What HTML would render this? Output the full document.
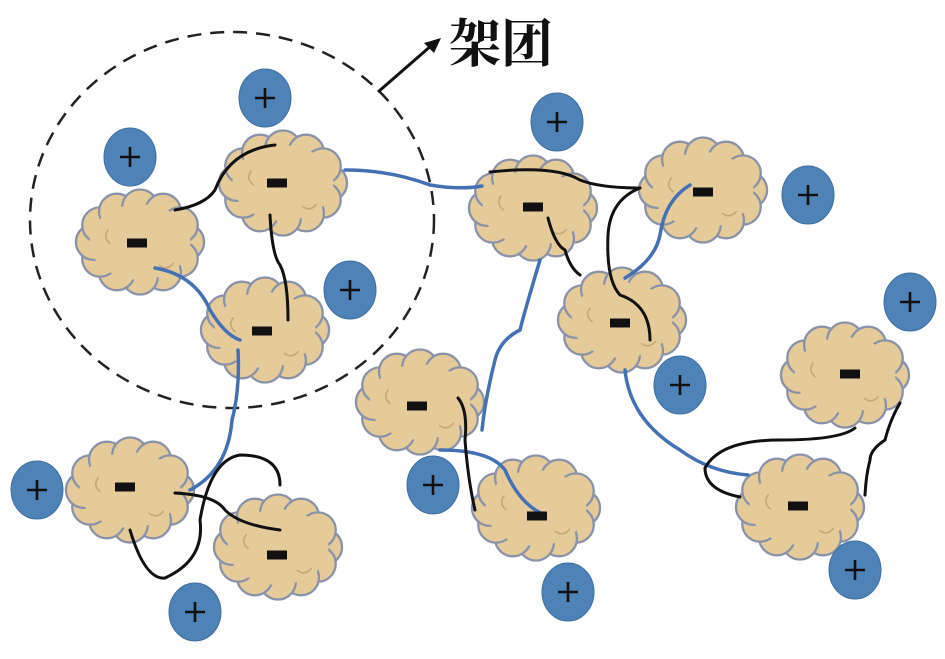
<!DOCTYPE html>
<html><head><meta charset="utf-8"><style>
html,body{margin:0;padding:0;background:#fff;width:945px;height:659px;overflow:hidden}
</style></head><body>
<svg width="945" height="659" viewBox="0 0 945 659" xmlns="http://www.w3.org/2000/svg">
<defs>
<g id="cl" transform="scale(1.05)">
<g fill="#e6cb9a" stroke="#8a92a8" stroke-width="2.2">
<circle cx="44" cy="0" r="17"/><circle cx="38" cy="16" r="17"/><circle cx="22" cy="29" r="17"/>
<circle cx="0" cy="33" r="17"/><circle cx="-22" cy="29" r="17"/><circle cx="-38" cy="16" r="17"/>
<circle cx="-44" cy="0" r="17"/><circle cx="-38" cy="-16" r="17"/><circle cx="-22" cy="-29" r="17"/>
<circle cx="0" cy="-33" r="17"/><circle cx="22" cy="-29" r="17"/><circle cx="38" cy="-16" r="17"/>
</g>
<ellipse cx="0" cy="0" rx="48" ry="36" fill="#e6cb9a"/>
<path d="M18 22 q8 6 14 -2 M-30 -12 q-6 8 2 14" stroke="#c4a878" stroke-width="1.5" fill="none"/>
</g>
<g id="pl">
<ellipse cx="0" cy="0" rx="26" ry="29" fill="#4f83b8" stroke="#3f6f9f" stroke-width="1"/>
<path d="M-10 0 H10 M0 -10 V10" stroke="#111" stroke-width="2.6"/>
</g>
<rect id="mn" x="-10" y="-4.5" width="20" height="9" fill="#111"/>
</defs>

<ellipse cx="232" cy="220" rx="202" ry="188" fill="none" stroke="#222" stroke-width="2.5" stroke-dasharray="14 9"/>
<path d="M378 92 L432 45" stroke="#111" stroke-width="3"/>
<path d="M441 38 L424 43 L434 53 Z" fill="#111"/>
<text x="449" y="62" font-family="Liberation Serif, 'Noto Serif CJK SC', serif" font-size="52" font-weight="bold" fill="#111">架团</text>

<use href="#cl" x="140" y="242"/>
<use href="#cl" x="283" y="183"/>
<use href="#cl" x="265" y="330"/>
<use href="#cl" x="533" y="208"/>
<use href="#cl" x="703" y="190"/>
<use href="#cl" x="622" y="320"/>
<use href="#cl" x="420" y="402"/>
<use href="#cl" x="536" y="508"/>
<use href="#cl" x="845" y="375"/>
<use href="#cl" x="800" y="507"/>
<use href="#cl" x="130" y="490"/>
<use href="#cl" x="278" y="547"/>

<g fill="none" stroke-width="3.5" stroke-linecap="round">
<g stroke="#4470b4">
<path d="M155 268 Q195 275 210 310 Q225 335 240 340"/>
<path d="M238 350 Q240 390 232 420 Q228 470 190 490"/>
<path d="M345 170 Q390 170 430 185 Q460 190 482 186"/>
<path d="M540 260 Q525 310 520 330 Q500 340 495 360 Q485 400 482 430"/>
<path d="M690 185 Q665 200 660 235 Q655 260 625 278"/>
<path d="M625 370 Q630 420 680 450 Q710 472 748 475"/>
<path d="M440 450 Q490 450 505 470 Q520 505 545 515"/>
</g>
<g stroke="#111" stroke-width="3">
<path d="M175 210 Q205 205 215 190 Q230 150 275 145"/>
<path d="M270 215 Q272 255 280 265 Q288 280 288 320"/>
<path d="M490 172 Q555 165 580 180 Q600 188 640 188"/>
<path d="M548 218 Q555 245 565 250 Q570 268 580 275"/>
<path d="M640 188 Q610 200 608 235 Q606 280 620 295 Q650 305 650 340"/>
<path d="M458 398 Q468 410 465 440 Q468 480 475 510"/>
<path d="M855 428 Q840 440 780 440 Q720 440 705 468 Q705 490 740 497"/>
<path d="M900 403 Q890 420 885 440 Q870 450 870 460 Q866 475 865 495"/>
<path d="M175 493 Q215 495 225 510 Q240 525 280 530"/>
<path d="M130 530 Q145 580 165 578 Q205 560 200 520 Q210 460 240 455 Q280 455 280 485"/>
</g>
</g>

<use href="#mn" x="137" y="243"/>
<use href="#mn" x="277" y="183"/>
<use href="#mn" x="262" y="331"/>
<use href="#mn" x="533" y="207"/>
<use href="#mn" x="703" y="192"/>
<use href="#mn" x="620" y="323"/>
<use href="#mn" x="417" y="406"/>
<use href="#mn" x="537" y="516"/>
<use href="#mn" x="850" y="374"/>
<use href="#mn" x="798" y="506"/>
<use href="#mn" x="125" y="487"/>
<use href="#mn" x="277" y="555"/>

<use href="#pl" x="265" y="98"/>
<use href="#pl" x="130" y="157"/>
<use href="#pl" x="350" y="290"/>
<use href="#pl" x="557" y="122"/>
<use href="#pl" x="808" y="195"/>
<use href="#pl" x="910" y="302"/>
<use href="#pl" x="680" y="385"/>
<use href="#pl" x="433" y="485"/>
<use href="#pl" x="568" y="592"/>
<use href="#pl" x="855" y="570"/>
<use href="#pl" x="37" y="490"/>
<use href="#pl" x="195" y="612"/>
</svg>
</body></html>
